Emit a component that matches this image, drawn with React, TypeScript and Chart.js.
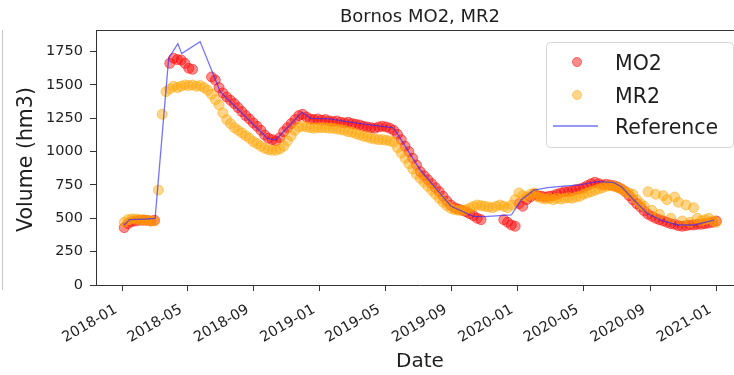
import { useEffect, useRef } from "react";
import { Chart, registerables } from "chart.js";

Chart.register(...registerables);

// ---- text ----
const TITLE = "Bornos MO2, MR2";
const X_LABEL = "Date";
const Y_LABEL = "Volume (hm3)";
const SERIES_NAMES = ["MO2", "MR2", "Reference"];

// ---- axis ticks ----
const xTickDates = [
  "2018-01-01", "2018-05-01", "2018-09-01", "2019-01-01", "2019-05-01",
  "2019-09-01", "2020-01-01", "2020-05-01", "2020-09-01", "2021-01-01",
];
const xTickLabels = [
  "2018-01", "2018-05", "2018-09", "2019-01", "2019-05",
  "2019-09", "2020-01", "2020-05", "2020-09", "2021-01",
];
const yTicks = [0, 250, 500, 750, 1000, 1250, 1500, 1750];
const X_RANGE = ["2017-11-14", "2021-02-21"];
const Y_MAX = 1912;

// ---- observations: weekly acquisitions starting on OBS_START ----
const OBS_START = "2018-01-05";
const OBS_STEP_DAYS = 7;

const mo2Values: (number | null)[] = [
  430, 460, 475, 480, 485, 485, 485, 480, 485, null,
  null, null, 1662, 1700, 1690, 1687, 1662, 1625, 1617, null,
  null, null, null, 1560, 1537, 1480, 1440, 1410, 1385, 1360,
  1330, 1300, 1270, 1245, 1215, 1190, 1160, 1125, 1100, 1090,
  1080, 1105, 1150, 1180, 1210, 1240, 1270, 1280, 1260, 1245,
  1240, 1245, 1235, 1240, 1230, 1225, 1230, 1220, 1215, 1220,
  1210, 1205, 1200, 1190, 1185, 1180, 1175, 1185, 1190, 1185,
  1175, 1160, 1130, 1090, 1040, 1000, 950, 900, 850, 820,
  790, 760, 730, 700, 665, 630, 600, 580, 570, 560,
  550, 535, 520, 500, 490, null, null, null, null, null,
  490, 470, 450, 440, 610, 590, 640, 660, 680, 670,
  665, 660, 665, 670, 680, 690, 700, 700, 705, 715,
  720, 730, 745, 760, 770, 760, 750, 755, 750, 745,
  735, 720, 700, 670, 640, 610, 585, 555, 530, 515,
  500, 490, 480, 470, 460, 455, 445, 440, 445, 450,
  450, 455, 455, 460, 465, 470, 480,
];

const mr2Values: (number | null)[] = [
  470, 490, 495, 495, 490, 490, 485, 480, 480, 712,
  1280, 1450, 1470, 1490, 1480, 1490, 1500, 1495, 1500, 1490,
  1495, 1480, 1460, 1430, 1390, 1350, 1290, 1240, 1210, 1180,
  1160, 1140, 1120, 1100, 1075, 1060, 1040, 1025, 1015, 1010,
  1010, 1020, 1040, 1080, 1120, 1160, 1185, 1190, 1185, 1180,
  1175, 1180, 1180, 1180, 1175, 1175, 1170, 1165, 1160, 1150,
  1145, 1135, 1125, 1115, 1110, 1100, 1095, 1090, 1090, 1085,
  1080, 1070, 1030, 990, 950, 910, 870, 830, 800, 770,
  740, 710, 680, 650, 620, 595, 575, 565, 560, 560,
  565, 575, 590, 600, 595, 590, 585, 580, 590, 600,
  590, 580, 600, 640, 690, 670, 660, 680, 690, 660,
  650, 645, 650, 640, 650, 645, 650, 655, 650, 660,
  665, 680, 690, 700, 710, 720, 730, 740, 745, 740,
  730, 720, 700, 690, 680, 640, 610, 590, 700, 560,
  680, 530, 670, 640, 500, 660, 620, 480, 600, 470,
  580, 500, 480, 490, 500, 480, 470,
];

// ---- reference series ----
const refDates = [
  "2018-01-05", "2018-01-15", "2018-02-15", "2018-03-03", "2018-03-28",
  "2018-04-14", "2018-04-21", "2018-05-25", "2018-07-01", "2018-09-26",
  "2018-10-11", "2018-11-29", "2018-12-15", "2019-01-20", "2019-03-01",
  "2019-04-15", "2019-05-15", "2019-05-20", "2019-07-05", "2019-08-31",
  "2019-10-12", "2019-10-31", "2019-12-20", "2020-01-07", "2020-01-31",
  "2020-02-25", "2020-03-20", "2020-04-25", "2020-05-25", "2020-06-25",
  "2020-07-10", "2020-08-02", "2020-08-27", "2020-09-21", "2020-10-21",
  "2020-11-21", "2020-12-28",
];
const refValues = [
  450, 490, 495, 500, 1700,
  1810, 1735, 1825, 1450, 1100,
  1087, 1295, 1250, 1245, 1220,
  1195, 1180, 1160, 862, 590,
  512, 512, 525, 637, 712,
  730, 740, 750, 775, 770,
  737, 637, 537, 487, 450,
  450, 487,
];

// ---- helpers ----
const FONT = "'DejaVu Sans', 'Liberation Sans', sans-serif";
const EPOCH = Date.UTC(2018, 0, 1);
const dayOf = (iso: string) => {
  const [y, m, d] = iso.split("-").map(Number);
  return (Date.UTC(y, m - 1, d) - EPOCH) / 86400000;
};
const obsStartDay = dayOf(OBS_START);
const toPoints = (vals: (number | null)[]) =>
  vals
    .map((v, i) => ({ x: obsStartDay + i * OBS_STEP_DAYS, y: v }))
    .filter((p) => p.y !== null) as { x: number; y: number }[];
const xTickDays = xTickDates.map(dayOf);

const RED_FILL = "rgba(255, 0, 0, 0.45)";
const RED_EDGE = "rgba(255, 0, 0, 0.5)";
const ORANGE_FILL = "rgba(255, 165, 0, 0.45)";
const ORANGE_EDGE = "rgba(255, 165, 0, 0.5)";
const BLUE = "rgba(40, 40, 250, 0.65)";
const TEXT = "#1e1e1e";
const AXIS = "#333";
const TICK_FONT_SIZE = 14.5;

const decorPlugin = {
  id: "decor",
  afterDraw(chart: any) {
    const { ctx, chartArea: a } = chart;
    ctx.save();
    // top spine
    ctx.strokeStyle = AXIS;
    ctx.lineWidth = 1;
    ctx.beginPath();
    ctx.moveTo(a.left, a.top + 0.5);
    ctx.lineTo(a.right, a.top + 0.5);
    ctx.stroke();

    // rotated date labels, right end anchored under each tick
    const xs = chart.scales.x;
    ctx.fillStyle = TEXT;
    ctx.font = `${TICK_FONT_SIZE}px ${FONT}`;
    ctx.textAlign = "right";
    ctx.textBaseline = "alphabetic";
    xTickDays.forEach((d, i) => {
      const px = xs.getPixelForValue(d);
      ctx.save();
      ctx.translate(px - 4, a.bottom + 27);
      ctx.rotate(-Math.PI / 6);
      ctx.fillText(xTickLabels[i], 0, 0);
      ctx.restore();
    });

    const cx = (a.left + a.right) / 2;
    ctx.textAlign = "center";
    ctx.font = `18px ${FONT}`;
    ctx.fillText(TITLE, cx, 22);

    ctx.font = `20px ${FONT}`;
    ctx.fillText(X_LABEL, cx, 367);

    ctx.save();
    ctx.translate(32, (a.top + a.bottom) / 2 + 2);
    ctx.rotate(-Math.PI / 2);
    ctx.font = `20.5px ${FONT}`;
    ctx.fillText(Y_LABEL, 0, 0);
    ctx.restore();

    // legend box
    const bw = 187;
    const bh = 105;
    const bx = a.right - 198;
    const by = a.top + 12;
    ctx.beginPath();
    ctx.roundRect(bx + 0.5, by + 0.5, bw, bh, 4);
    ctx.fillStyle = "rgba(255,255,255,0.85)";
    ctx.fill();
    ctx.strokeStyle = "#d6d6d6";
    ctx.stroke();

    const rows = [by + 20, by + 53, by + 84];
    const markers = [
      [RED_FILL, RED_EDGE],
      [ORANGE_FILL, ORANGE_EDGE],
    ];
    markers.forEach(([fill, edge], i) => {
      ctx.beginPath();
      ctx.arc(bx + 31, rows[i], 4.5, 0, Math.PI * 2);
      ctx.fillStyle = fill;
      ctx.fill();
      ctx.strokeStyle = edge;
      ctx.stroke();
    });
    ctx.beginPath();
    ctx.moveTo(bx + 7, rows[2]);
    ctx.lineTo(bx + 52, rows[2]);
    ctx.strokeStyle = BLUE;
    ctx.lineWidth = 1.3;
    ctx.stroke();

    ctx.fillStyle = TEXT;
    ctx.textAlign = "left";
    ctx.font = `20.5px ${FONT}`;
    SERIES_NAMES.forEach((name, i) => {
      ctx.fillText(name, bx + 69, rows[i] + 7.5);
    });
    ctx.restore();
  },
};

export default function App() {
  const canvasRef = useRef<HTMLCanvasElement>(null);

  useEffect(() => {
    const canvas = canvasRef.current;
    if (!canvas) return;

    const chart = new Chart(canvas, {
      type: "scatter",
      data: {
        datasets: [
          {
            label: SERIES_NAMES[2],
            data: refDates.map((d, i) => ({ x: dayOf(d), y: refValues[i] })),
            showLine: true,
            borderColor: BLUE,
            borderWidth: 1.3,
            pointRadius: 0,
            fill: false,
            order: 0,
          },
          {
            label: SERIES_NAMES[1],
            data: toPoints(mr2Values),
            backgroundColor: ORANGE_FILL,
            borderColor: ORANGE_EDGE,
            pointRadius: 5,
            pointBorderWidth: 1,
            order: 1,
          },
          {
            label: SERIES_NAMES[0],
            data: toPoints(mo2Values),
            backgroundColor: RED_FILL,
            borderColor: RED_EDGE,
            pointRadius: 5,
            pointBorderWidth: 1,
            order: 2,
          },
        ],
      },
      options: {
        animation: false,
        responsive: false,
        devicePixelRatio: 1,
        events: [],
        layout: { padding: { left: 0, top: 30, right: 16, bottom: 0 } },
        plugins: {
          legend: { display: false },
          title: { display: false },
          tooltip: { enabled: false },
        },
        scales: {
          x: {
            type: "linear",
            min: dayOf(X_RANGE[0]),
            max: dayOf(X_RANGE[1]),
            afterBuildTicks: (scale: any) => {
              scale.ticks = xTickDays.map((v) => ({ value: v }));
            },
            afterFit: (scale: any) => {
              scale.height = 90;
            },
            grid: {
              display: true,
              drawOnChartArea: false,
              drawTicks: true,
              tickLength: 6,
              color: AXIS,
            },
            border: { display: true, color: AXIS, width: 1 },
            ticks: { display: false, autoSkip: false },
          },
          y: {
            type: "linear",
            min: 0,
            max: Y_MAX,
            afterBuildTicks: (scale: any) => {
              scale.ticks = yTicks.map((v) => ({ value: v }));
            },
            afterFit: (scale: any) => {
              scale.width = 96;
            },
            grid: {
              display: true,
              drawOnChartArea: false,
              drawTicks: true,
              tickLength: 6,
              color: AXIS,
            },
            border: { display: true, color: AXIS, width: 1 },
            ticks: {
              padding: 7,
              color: TEXT,
              font: { family: FONT, size: TICK_FONT_SIZE },
              callback: (v: any) => String(v),
            },
          },
        },
      },
      plugins: [decorPlugin],
    });
    return () => chart.destroy();
  }, []);

  return (
    <div
      style={{
        position: "fixed",
        left: 0,
        top: 0,
        width: 734,
        height: 375,
        overflow: "hidden",
        background: "#fff",
      }}
    >
      <canvas
        ref={canvasRef}
        width={760}
        height={375}
        style={{ display: "block", width: 760, height: 375 }}
      />
      <div
        style={{
          position: "absolute",
          left: 2,
          top: 30,
          width: 1,
          height: 260,
          background: "#c8c8c8",
        }}
      />
    </div>
  );
}
